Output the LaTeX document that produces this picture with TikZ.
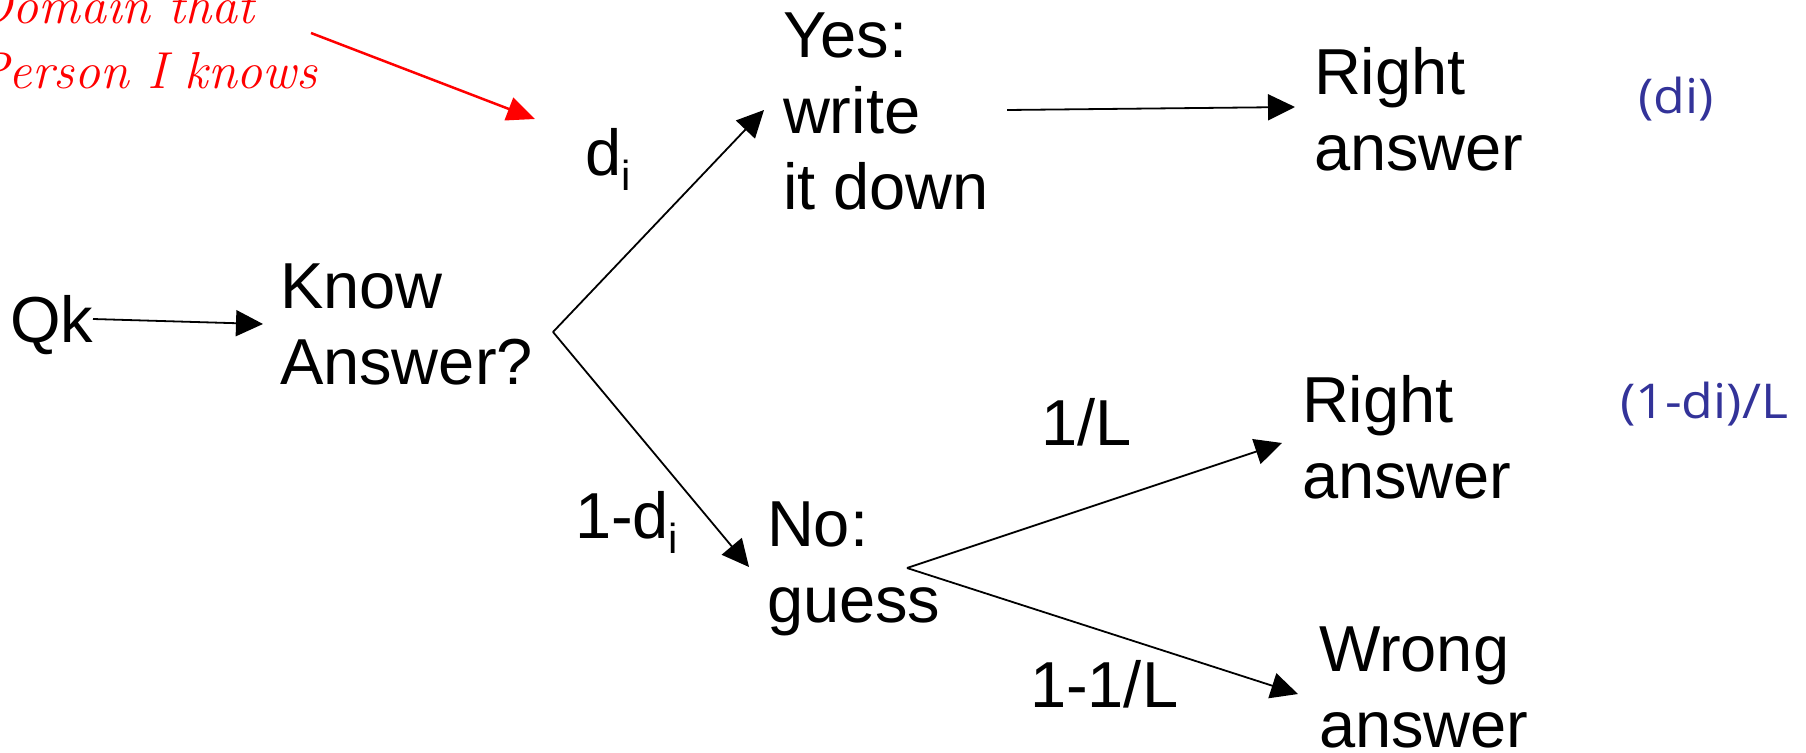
\documentclass[tikz,border=0pt]{standalone}
\usepackage{fontspec}
\newfontfamily\arialfont{Liberation Sans}
\newfontfamily\bluefont[FakeStretch=1.08]{Open Sans}
\usetikzlibrary{arrows.meta}
\definecolor{probblue}{RGB}{51,51,153}
\begin{document}
\begin{tikzpicture}[x=1pt,y=-1pt,
  lbl/.style={inner sep=0pt, outer sep=0pt, font=\arialfont\fontsize{65}{76}\selectfont, align=left},
  ml/.style={lbl, anchor=north west},
  sl/.style={lbl, anchor=base west},
  conn/.style={line width=1.8pt, -{Triangle[length=27pt,width=26pt]}},
  prob/.style={inner sep=0pt, anchor=base west, text=probblue, font=\bluefont\fontsize{48}{56}\selectfont},
  note/.style={inner sep=0pt, anchor=north west, text=red, font=\rmfamily\itshape\fontsize{52}{65}\selectfont, align=left},
  notearrow/.style={draw=red, line width=2.5pt, -{Triangle[length=28pt,width=24pt]}, red}]
\useasboundingbox (0,0) rectangle (1806,752);

% text nodes
\node[note] (note) at (-26,-13) {Domain that\\Person I knows};
\node[sl] (qk) at (10,342) {Qk};
\node[ml] (know) at (280,263.5) {Know\\Answer?};
\node[ml] (yes) at (783,13) {Yes:\\write\\it down};
\node[sl] (di) at (585,175) {d\raisebox{-15pt}{\fontsize{42}{42}\selectfont i}};
\node[ml] (right1) at (1314,47) {Right\\answer};
\node[prob] (p1) at (1638,113) {(di)};
\node[sl] (ndi) at (575,538) {1-d\raisebox{-15pt}{\fontsize{42}{42}\selectfont i}};
\node[ml] (no) at (767,502) {No:\\guess};
\node[sl] (oneL) at (1041,445) {1/L};
\node[sl] (noneL) at (1030,707) {1-1/L};
\node[ml] (right2) at (1302,375) {Right\\answer};
\node[prob] (p2) at (1620,418) {(1-di)/L};
\node[ml] (wrong) at (1319,627) {Wrong\\answer};

% connector points
\coordinate (noteout) at (311,33);
\coordinate (notein) at (535,119);
\coordinate (qkout) at (93,319);
\coordinate (knowin) at (263,324);
\coordinate (fork1) at (553,332);
\coordinate (yesin) at (764,110);
\coordinate (noin) at (749,567);
\coordinate (yesout) at (1007,110);
\coordinate (r1in) at (1295,107);
\coordinate (fork2) at (907,568);
\coordinate (r2in) at (1282,443);
\coordinate (wrin) at (1298,694);

% connectors
\draw[notearrow] (noteout) -- (notein);
\draw[conn] (qkout) -- (knowin);
\draw[conn] (fork1) -- (yesin);
\draw[conn] (fork1) -- (noin);
\draw[conn] (yesout) -- (r1in);
\draw[conn] (fork2) -- (r2in);
\draw[conn] (fork2) -- (wrin);
\end{tikzpicture}
\end{document}
